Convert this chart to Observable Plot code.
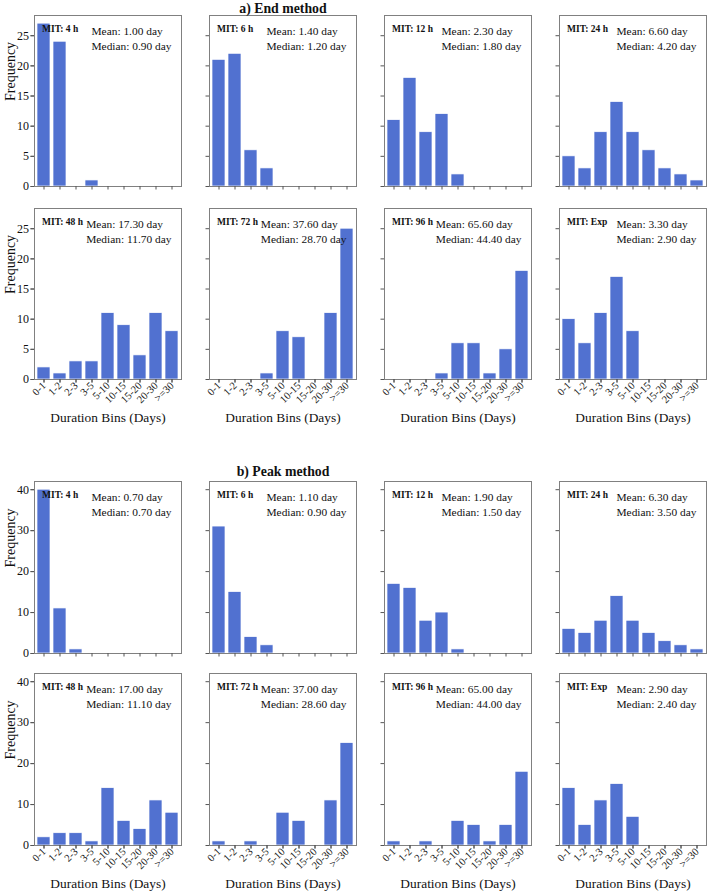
<!DOCTYPE html>
<html><head><meta charset="utf-8">
<script src="https://cdn.jsdelivr.net/npm/d3@7"></script>
<script src="https://cdn.jsdelivr.net/npm/@observablehq/plot@0.6"></script>
<style>
body{margin:0;background:#fff;}
#chart{position:relative;width:709px;height:894px;font-family:"Liberation Serif",serif;}
#chart > div{position:absolute;left:0;}
</style></head><body>
<div id="chart"><div id="a" style="top:0"></div><div id="b" style="top:455px"></div></div>
<script>
const bins = ["0-1","1-2","2-3","3-5","5-10","10-15","15-20","20-30",">=30"];
const mitLabels = ["MIT: 4 h","MIT: 6 h","MIT: 12 h","MIT: 24 h","MIT: 48 h","MIT: 72 h","MIT: 96 h","MIT: Exp"];

const endCounts = [
  [27,24,0,1,0,0,0,0,0],
  [21,22,6,3,0,0,0,0,0],
  [11,18,9,12,2,0,0,0,0],
  [5,3,9,14,9,6,3,2,1],
  [2,1,3,3,11,9,4,11,8],
  [0,0,0,1,8,7,0,11,25],
  [0,0,0,1,6,6,1,5,18],
  [10,6,11,17,8,0,0,0,0]
];
const endMean = [1.0,1.4,2.3,6.6,17.3,37.6,65.6,3.3];
const endMedian = [0.9,1.2,1.8,4.2,11.7,28.7,44.4,2.9];

const peakCounts = [
  [40,11,1,0,0,0,0,0,0],
  [31,15,4,2,0,0,0,0,0],
  [17,16,8,10,1,0,0,0,0],
  [6,5,8,14,8,5,3,2,1],
  [2,3,3,1,14,6,4,11,8],
  [1,0,1,0,8,6,0,11,25],
  [1,0,1,0,6,5,1,5,18],
  [14,5,11,15,7,0,0,0,0]
];
const peakMean = [0.7,1.1,1.9,6.3,17.0,37.0,65.0,2.9];
const peakMedian = [0.7,0.9,1.5,3.5,11.1,28.6,44.0,2.4];

const endTicks = [0,5,10,15,20,25];
const peakTicks = [0,10,20,30,40];

const barColor = "#5171d0";
const annFont = 11.4;
const ctx = document.createElement("canvas").getContext("2d");
function measure(t, font) { ctx.font = font; return ctx.measureText(t).width; }

function group(counts, means, medians, yMax, yTicks, title, o) {
  const rows = [];
  counts.forEach((c, p) => c.forEach((v, j) => rows.push({col: p % 4, row: Math.floor(p / 4), bin: bins[j], count: v})));
  const marks = [
    Plot.barY(rows.filter(d => d.count > 0), {fx: "col", fy: "row", x: "bin", y: "count", fill: barColor, stroke: "white", strokeWidth: 0.7}),
    Plot.frame({stroke: "#808080", strokeWidth: 1}),
    Plot.axisY({ticks: yTicks, tickSize: 3.5, tickFormat: () => "", facetAnchor: null, stroke: "#555", label: null}),
    Plot.axisY({ticks: yTicks, tickSize: 3.5, tickPadding: 2, fontSize: 12, stroke: "#555", label: null}),
    Plot.axisX({tickSize: 3.5, tickFormat: () => "", facetAnchor: null, stroke: "#555", label: null}),
    Plot.axisX({tickSize: 3.5, tickPadding: 1, tickRotate: -45, fontSize: 10.5, stroke: "#555", label: null}),
    Plot.text([{col: 1, row: 0}], {fx: "col", fy: "row", frameAnchor: "top", text: () => title, lineAnchor: "bottom", dy: o.titleDy, fontSize: 13.8, fontWeight: "bold"}),
    Plot.text([{col: 0, row: 0}, {col: 0, row: 1}], {fx: "col", fy: "row", frameAnchor: "left", text: () => "Frequency", rotate: -90, dx: -24, fontSize: 14}),
    Plot.text([0,1,2,3].map(c => ({col: c, row: 1})), {fx: "col", fy: "row", frameAnchor: "bottom", text: () => "Duration Bins (Days)", lineAnchor: "bottom", dy: 42, fontSize: 13.4})
  ];
  for (let p = 0; p < 8; p++) {
    const d = [{col: p % 4, row: Math.floor(p / 4)}];
    const meanT = `Mean: ${means[p].toFixed(2)} day`;
    const medT = `Median: ${medians[p].toFixed(2)} day`;
    const w = measure(medT, `${annFont}px 'Liberation Serif'`);
    marks.push(Plot.text(d, {fx: "col", fy: "row", frameAnchor: "top-left", text: () => mitLabels[p], textAnchor: "start", lineAnchor: "bottom", dx: 7.5, dy: 16, fontSize: 9.5, fontWeight: "bold"}));
    marks.push(Plot.text(d, {fx: "col", fy: "row", frameAnchor: "top-right", text: () => meanT, textAnchor: "start", lineAnchor: "bottom", dx: -10 - w, dy: 19, fontSize: annFont}));
    marks.push(Plot.text(d, {fx: "col", fy: "row", frameAnchor: "top-right", text: () => medT, textAnchor: "end", lineAnchor: "bottom", dx: -10, dy: 34, fontSize: annFont}));
  }
  return Plot.plot({
    width: 709,
    height: o.height,
    marginLeft: 33,
    marginRight: 3,
    marginTop: o.marginTop,
    marginBottom: o.marginBottom,
    style: {fontFamily: "'Liberation Serif', serif", fontSize: "11px", color: "#111", background: "white", overflow: "visible"},
    fx: {domain: [0,1,2,3], paddingInner: 0.16, paddingOuter: 0, axis: null, label: null},
    fy: {domain: [0,1], paddingInner: o.fyPad, paddingOuter: 0, axis: null, label: null},
    x: {domain: bins, paddingInner: 0.2, paddingOuter: 0.1, label: null},
    y: {domain: [0, yMax], label: null},
    marks
  });
}

document.getElementById("a").appendChild(group(endCounts, endMean, endMedian, 28.35, endTicks, "a) End method",
  {height: 430, marginTop: 14, marginBottom: 50, fyPad: 0.113, titleDy: -2.5}));
document.getElementById("b").appendChild(group(peakCounts, peakMean, peakMedian, 42, peakTicks, "b) Peak method",
  {height: 439, marginTop: 26, marginBottom: 48, fyPad: 0.104, titleDy: -5.5}));
</script>
</body></html>
